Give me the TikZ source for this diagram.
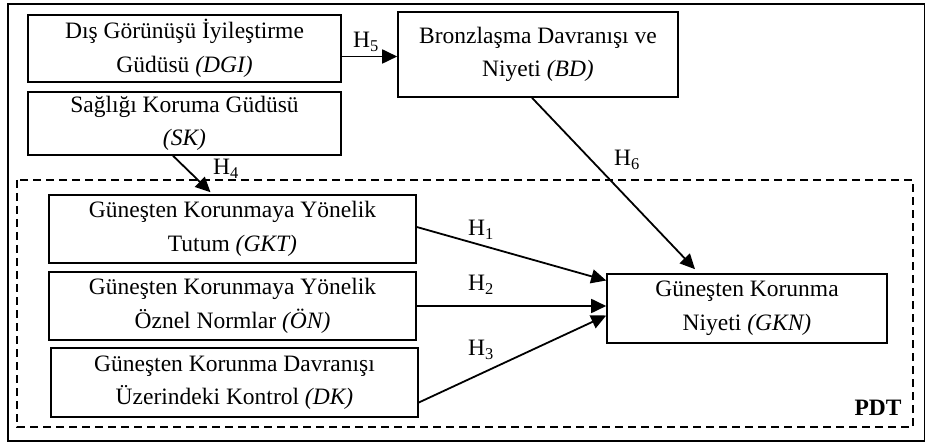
\documentclass[tikz,border=0pt]{standalone}
\usepackage{fontspec}
\setmainfont{Liberation Serif}
\usetikzlibrary{arrows.meta}
\begin{document}
\begin{tikzpicture}[x=1pt,y=-1pt,
  box/.style={draw,line width=1.6pt,rectangle,align=center,inner sep=0pt,
    font=\fontsize{23.5}{33.5}\selectfont},
  conn/.style={line width=1.8pt,-{Triangle[length=15pt,width=14pt]}},
  hlab/.style={font=\fontsize{23.5}{26}\selectfont,inner sep=0pt}]
\useasboundingbox (0,0) rectangle (925,443);
\draw[line width=1.4pt] (8,4) rectangle (924.5,441);
\draw[line width=1.3pt,dash pattern=on 8pt off 5pt] (17,180) rectangle (913,427);
\node[box,minimum width=313pt,minimum height=67pt] (DGI) at (184.5,48.5) {Dış Görünüşü İyileştirme\\Güdüsü \textit{(DGI)}};
\node[box,minimum width=313pt,minimum height=63pt] (SK) at (184.5,123.5) {Sağlığı Koruma Güdüsü\\\textit{(SK)}};
\node[box,minimum width=280pt,minimum height=85pt] (BD) at (538,54.5) {Bronzlaşma Davranışı ve\\Niyeti \textit{(BD)}};
\node[box,minimum width=367pt,minimum height=68pt] (GKT) at (232.5,229) {Güneşten Korunmaya Yönelik\\Tutum \textit{(GKT)}};
\node[box,minimum width=367pt,minimum height=68pt] (ON) at (232.5,306) {Güneşten Korunmaya Yönelik\\Öznel Normlar \textit{(ÖN)}};
\node[box,minimum width=367pt,minimum height=69pt] (DK) at (234.5,382.5) {Güneşten Korunma Davranışı\\Üzerindeki Kontrol \textit{(DK)}};
\node[box,minimum width=280pt,minimum height=69pt] (GKN) at (747,308.5) {Güneşten Korunma\\Niyeti \textit{(GKN)}};
\coordinate (h5s) at ([yshift=-8pt]DGI.east);
\draw[conn] (h5s) -- (h5s -| BD.west);
\draw[conn] ([xshift=-11.5pt]SK.south) -- ([xshift=-22pt,yshift=2pt]GKT.north);
\draw[conn] ([xshift=-6pt]BD.south) -- ([xshift=-52pt,yshift=4pt]GKN.north);
\draw[conn] ([yshift=2pt]GKT.east) -- ([yshift=28pt]GKN.west);
\draw[conn] (ON.east) -- (ON.east -| GKN.west);
\draw[conn] ([yshift=-20pt]DK.east) -- ([yshift=-7pt]GKN.west);
\node[hlab] (l5) at (366,42) {H\textsubscript{5}};
\node[hlab] (l4) at (226,169) {H\textsubscript{4}};
\node[hlab] (l6) at (627,160) {H\textsubscript{6}};
\node[hlab] (l1) at (481,230) {H\textsubscript{1}};
\node[hlab] (l2) at (481,285) {H\textsubscript{2}};
\node[hlab] (l3) at (481,350) {H\textsubscript{3}};
\node[hlab,font=\fontsize{23.5}{26}\selectfont\bfseries] (pdt) at (878,408) {PDT};
\end{tikzpicture}
\end{document}
